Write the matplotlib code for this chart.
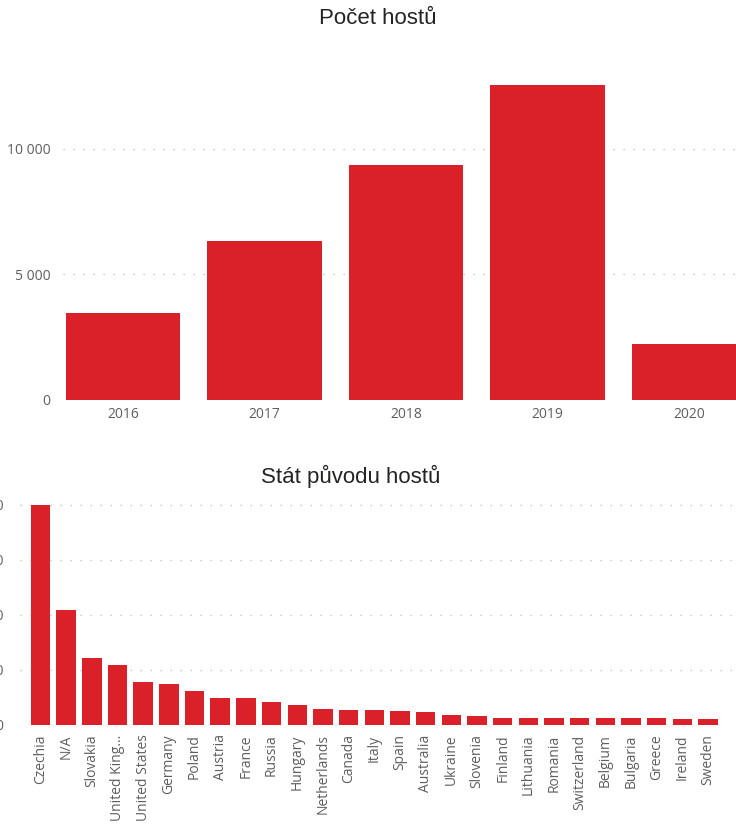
import matplotlib
matplotlib.use('Agg')
import matplotlib.pyplot as plt
from matplotlib.ticker import FuncFormatter

# data
years = ['2016', '2017', '2018', '2019', '2020']
guests = [3450, 6310, 9360, 12540, 2220]

countries = ['Czechia', 'N/A', 'Slovakia', 'United Kingdom', 'United States', 'Germany',
             'Poland', 'Austria', 'France', 'Russia', 'Hungary', 'Netherlands', 'Canada',
             'Italy', 'Spain', 'Australia', 'Ukraine', 'Slovenia', 'Finland', 'Lithuania',
             'Romania', 'Switzerland', 'Belgium', 'Bulgaria', 'Greece', 'Ireland', 'Sweden']
country_guests = [8000, 4180, 2440, 2160, 1550, 1470, 1215, 980, 970, 835, 725, 570, 535,
                  530, 500, 475, 365, 330, 255, 250, 245, 240, 240, 238, 235, 225, 220]

top_ticks = [0, 5000, 10000]
bottom_ticks = [0, 2000, 4000, 6000, 8000]

bar_color = '#DA2129'
grid_color = '#BDBBB9'
tick_color = '#605E5C'
title_color = '#252423'
tick_font = ['Open Sans', 'DejaVu Sans']
title_font = ['Liberation Sans', 'DejaVu Sans']

W, H = 736, 827
fig = plt.figure(figsize=(W / 100, H / 100), dpi=100)


def space_thousands(v, pos):
    return '{:,.0f}'.format(v).replace(',', ' ')


def style_axis(ax, ticks, label_pad):
    for s in ax.spines.values():
        s.set_visible(False)
    ax.set_yticks(ticks)
    ax.yaxis.set_major_formatter(FuncFormatter(space_thousands))
    ax.tick_params(axis='both', length=0, colors=tick_color)
    ax.tick_params(axis='y', pad=label_pad)
    ax.grid(axis='y', color=grid_color, linestyle=(0, (1, 7)), linewidth=0.9)
    ax.set_axisbelow(True)
    for lab in ax.get_xticklabels() + ax.get_yticklabels():
        lab.set_fontfamily(tick_font)


# top chart: guests per year
ax1 = fig.add_axes([63 / W, 1 - 399.7 / H, (W - 63) / W, 13500 * 0.0251 / H])
x1 = list(range(len(years)))
ax1.bar(x1, guests, width=0.806, color=bar_color)
ax1.set_xlim(-0.424, 4.332)
ax1.set_ylim(0, 13500)
ax1.set_xticks(x1)
ax1.set_xticklabels(years, fontsize=10)
style_axis(ax1, top_ticks, 9)
ax1.tick_params(axis='y', labelsize=10)
ax1.tick_params(axis='x', pad=5)
fig.text(378 / W, 1 - 18 / H, 'Počet hostů', ha='center', va='center',
         fontsize=16, color=title_color, family=title_font)

# bottom chart: country of origin
ax2 = fig.add_axes([20 / W, 1 - 724.7 / H, (W - 20) / W, 8400 * 0.0275 / H])
x2 = list(range(len(countries)))
ax2.bar(x2, country_guests, width=0.76, color=bar_color)
ax2.set_xlim(-0.80, 27.09)
ax2.set_ylim(0, 8400)
labels = [c if len(c) <= 13 else c[:11] + '...' for c in countries]
ax2.set_xticks(x2)
ax2.set_xticklabels(labels, rotation=90, fontsize=10, va='top', ha='center')
style_axis(ax2, bottom_ticks, 12)
ax2.tick_params(axis='y', labelsize=10)
ax2.tick_params(axis='x', pad=7)
fig.text(351 / W, 1 - 476 / H, 'Stát původu hostů', ha='center', va='center',
         fontsize=16, color=title_color, family=title_font)

fig.savefig('out.png', dpi=100)
